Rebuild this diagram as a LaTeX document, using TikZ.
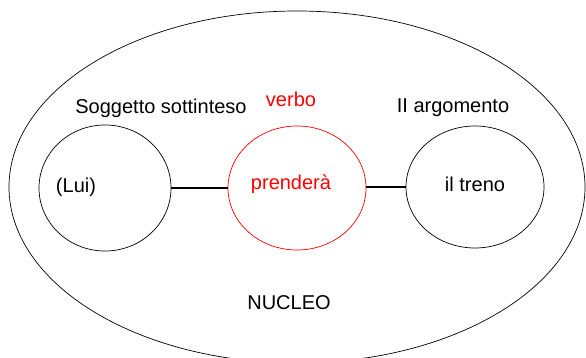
\documentclass[tikz,border=0pt]{standalone}
\usepackage{fontspec}
\setmainfont{Liberation Sans}
\usetikzlibrary{shapes.geometric,positioning}
\tikzset{
  ruolo/.style={draw,ellipse,line width=0.7pt,inner sep=0pt},
  etichetta/.style={font=\fontsize{20}{22}\selectfont,inner sep=0pt}
}

\begin{document}
\begin{tikzpicture}[x=1pt,y=-1pt]
        \useasboundingbox (0,0) rectangle (586,358);
        \clip (0,0) rectangle (586,358);
        \draw[line width=0.7pt] (297,187) ellipse [x radius=288, y radius=176];

        \node[ruolo,minimum width=132pt,minimum height=126pt] (lui) at (105,188) {};
        \node[ruolo,red,minimum width=138pt,minimum height=124pt] (verbo) at (297,188) {};
        \node[ruolo,minimum width=138pt,minimum height=122pt] (treno) at (475,187) {};

        \node[etichetta] (luitxt) at (76,187) {(Lui)};
        \node[etichetta,red] (verbotxt) at (291,184) {prenderà};
        \node[etichetta] (trenotxt) at (475,184) {il treno};

        \node[etichetta] (sogg) at (161,108) {Soggetto sottinteso};
        \node[etichetta,red] (verbolab) at (291,99) {verbo};
        \node[etichetta] (arg) at (453,108) {II argomento};
        \node[etichetta] (nucleo) at (289,303) {NUCLEO};

        \draw[line width=2.5pt] (lui.east) -- (verbo.west);
        \draw[line width=1.5pt] (verbo.east |- treno.west) -- (treno.west);
      \end{tikzpicture}
\end{document}
